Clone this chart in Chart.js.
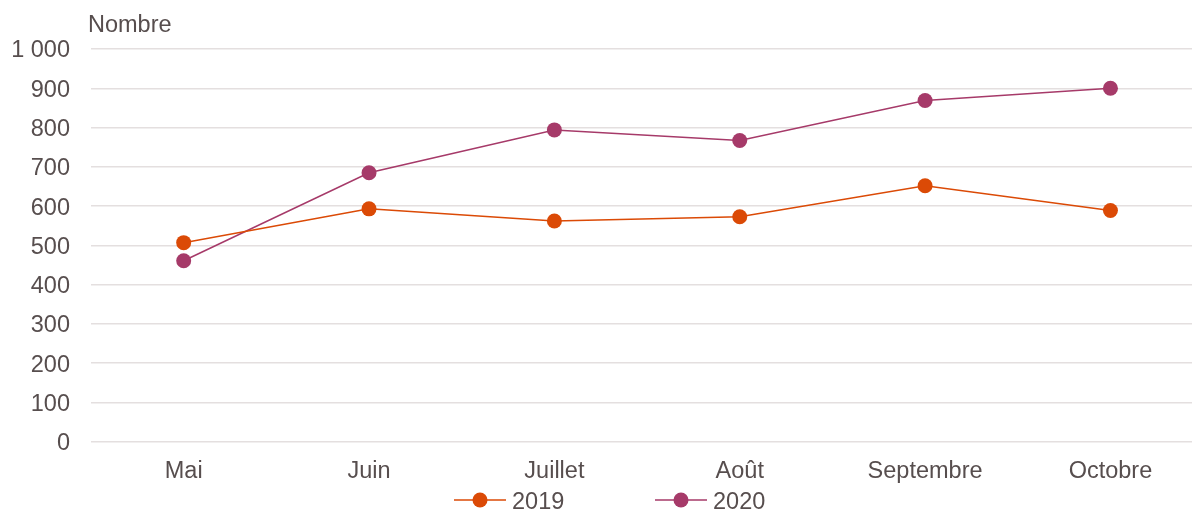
<!DOCTYPE html>
<html lang="fr">
<head>
<meta charset="utf-8">
<script src="https://cdn.jsdelivr.net/npm/chart.js@4.4.0/dist/chart.umd.min.js"></script>
<style>
html,body{margin:0;padding:0;background:#fff;}
#wrap{position:relative;width:1192px;height:510px;}
</style>
</head>
<body>
<div id="wrap"><canvas id="chart"></canvas></div>
<script>
const months = ['Mai','Juin','Juillet','Août','Septembre','Octobre'];
const values2019 = [507, 593, 562, 573, 652, 589];
const values2020 = [461, 685, 794, 767, 869, 900];
const seriesNames = ['2019','2020'];
const yTickLabels = ['0','100','200','300','400','500','600','700','800','900','1 000'];
const yAxisTitle = 'Nombre';

const FONT_FAMILY = '"Liberation Sans", Arial, sans-serif';
const FONT_SIZE = 23.5;
const textColor = '#574e4e';
const gridColor = '#e4dfdf';
const colors = ['#db4a06','#a63a69'];

function toPoints(arr){
  return arr.map((v, i) => ({x: i, y: v}));
}

// nombre au-dessus de l'axe + legende ligne/point
const extras = {
  id: 'extras',
  afterDraw(chart){
    const {ctx, chartArea} = chart;
    ctx.save();
    ctx.font = FONT_SIZE + 'px ' + FONT_FAMILY;
    ctx.fillStyle = textColor;
    ctx.textBaseline = 'alphabetic';
    ctx.textAlign = 'left';
    ctx.fillText(yAxisTitle, chartArea.left - 3, 32);

    const startX = chart.width / 2 - 142;
    const cy = 500;
    seriesNames.forEach((name, i) => {
      const sx = startX + i * 201;
      ctx.strokeStyle = colors[i];
      ctx.lineWidth = 1.5;
      ctx.beginPath();
      ctx.moveTo(sx, cy);
      ctx.lineTo(sx + 52, cy);
      ctx.stroke();
      ctx.fillStyle = colors[i];
      ctx.beginPath();
      ctx.arc(sx + 26, cy, 7.5, 0, Math.PI * 2);
      ctx.fill();
      ctx.fillStyle = textColor;
      ctx.fillText(name, sx + 58, 509);
    });
    ctx.restore();
  }
};

const chart = new Chart(document.getElementById('chart'), {
  type: 'line',
  data: {
    datasets: [
      { label: seriesNames[0], data: toPoints(values2019), borderColor: colors[0], backgroundColor: colors[0] },
      { label: seriesNames[1], data: toPoints(values2020), borderColor: colors[1], backgroundColor: colors[1] }
    ]
  },
  options: {
    responsive: true,
    maintainAspectRatio: false,
    animation: false,
    layout: { autoPadding: false, padding: { top: 49, right: 0, left: 0, bottom: 8 } },
    elements: {
      line: { borderWidth: 1.5, tension: 0 },
      point: { radius: 7.5, hoverRadius: 7.5, borderWidth: 0 }
    },
    scales: {
      x: {
        type: 'linear',
        min: -0.5,
        max: 5.44,
        grid: { display: false, drawTicks: false },
        border: { display: false },
        afterBuildTicks(scale){ scale.ticks = months.map((_, i) => ({value: i})); },
        afterFit(scale){ scale.paddingLeft = 0; scale.paddingRight = 0; },
        ticks: {
          padding: 16,
          autoSkip: false,
          maxRotation: 0,
          color: textColor,
          font: { family: FONT_FAMILY, size: FONT_SIZE },
          callback: v => months[v]
        }
      },
      y: {
        min: 0,
        max: 1000,
        afterFit(scale){ scale.width = 91; scale.paddingTop = 0; scale.paddingBottom = 0; },
        grid: { color: gridColor, lineWidth: 1.5, drawTicks: false },
        border: { display: false },
        ticks: {
          stepSize: 100,
          padding: 21,
          labelOffset: 2,
          color: textColor,
          font: { family: FONT_FAMILY, size: FONT_SIZE },
          callback: v => yTickLabels[Math.round(v / 100)]
        }
      }
    },
    plugins: {
      legend: { display: false },
      tooltip: { enabled: false }
    }
  },
  plugins: [extras]
});
</script>
</body>
</html>
